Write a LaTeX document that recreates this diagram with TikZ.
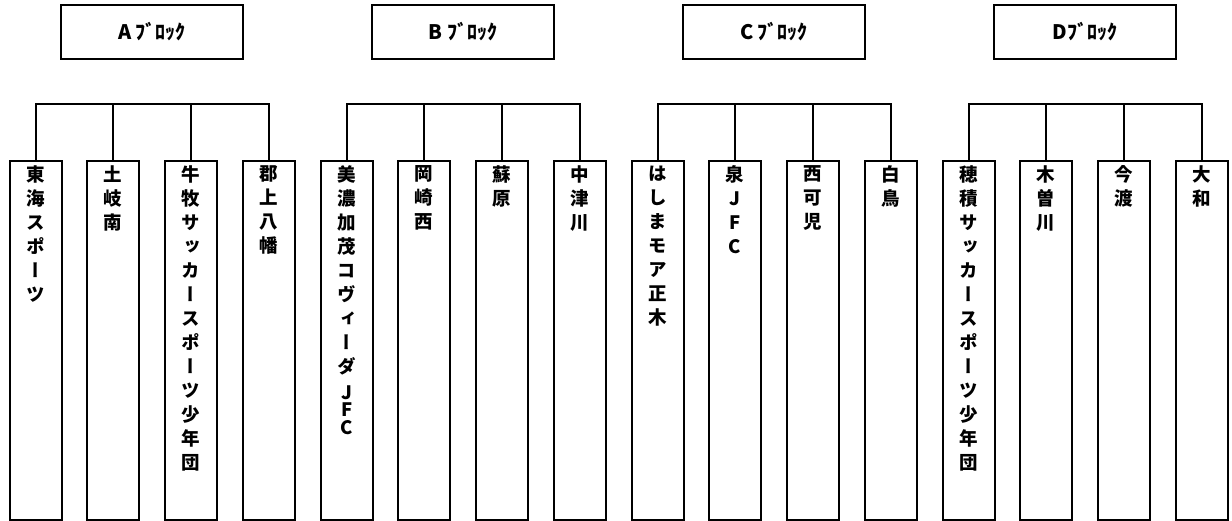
\documentclass[tikz,border=0pt]{standalone}
\usepackage{fontspec}
\newfontfamily\jp{Noto Sans CJK JP}
\newfontfamily\jpv{Noto Sans CJK JP}[RawFeature=+vert]
\begin{document}
\begin{tikzpicture}[x=1pt,y=-1pt,
  ln/.style={line width=1.6pt},
  head/.style={draw,line width=1.6pt,minimum width=182pt,minimum height=54pt,inner sep=0pt,font=\jp\bfseries\fontsize{20}{22}\selectfont},
  team/.style={draw,line width=1.6pt,minimum width=52pt,minimum height=359pt,inner sep=0pt,anchor=north},
  tname/.style={anchor=north,inner sep=0pt,align=center,font=\jpv\bfseries\fontsize{18.5}{24}\selectfont}]
\useasboundingbox (0,0) rectangle (1232,520);
% headers
\node[head] (hA) at (152,32) {A ﾌﾞﾛｯｸ};
\node[head] (hB) at (463,32) {B ﾌﾞﾛｯｸ};
\node[head] (hC) at (774,32) {C ﾌﾞﾛｯｸ};
\node[head] (hD) at (1085,32) {Dﾌﾞﾛｯｸ};
% team boxes
\def\ty{160}
\node[team] (a1) at (36,\ty) {};
\node[team] (a2) at (113,\ty) {};
\node[team] (a3) at (191,\ty) {};
\node[team] (a4) at (269,\ty) {};
\node[team] (b1) at (347,\ty) {};
\node[team] (b2) at (424,\ty) {};
\node[team] (b3) at (502,\ty) {};
\node[team] (b4) at (580,\ty) {};
\node[team] (c1) at (658,\ty) {};
\node[team] (c2) at (735,\ty) {};
\node[team] (c3) at (813,\ty) {};
\node[team] (c4) at (891,\ty) {};
\node[team] (d1) at (969,\ty) {};
\node[team] (d2) at (1046,\ty) {};
\node[team] (d3) at (1124,\ty) {};
\node[team] (d4) at (1202,\ty) {};
% names
\def\ny{165.5}
\node[tname] (ta1) at (36,\ny) {東\\海\\ス\\ポ\\ー\\ツ};
\node[tname] (ta2) at (113,\ny) {土\\岐\\南};
\node[tname] (ta3) at (191,\ny) {牛\\牧\\サ\\ッ\\カ\\ー\\ス\\ポ\\ー\\ツ\\少\\年\\団};
\node[tname] (ta4) at (269,\ny) {郡\\上\\八\\幡};
\node[tname] (tb1) at (347,\ny) {美\\濃\\加\\茂\\コ\\ヴ\\ィ\\ー\\ダ\\[2pt]J\\[-7pt]F\\[-6pt]C};
\node[tname] (tb2) at (424,\ny) {岡\\崎\\西};
\node[tname] (tb3) at (502,\ny) {蘇\\原};
\node[tname] (tb4) at (580,\ny) {中\\津\\川};
\node[tname] (tc1) at (658,\ny) {は\\し\\ま\\モ\\ア\\正\\木};
\node[tname] (tc2) at (735,\ny) {泉\\J\\F\\C};
\node[tname] (tc3) at (813,\ny) {西\\可\\児};
\node[tname] (tc4) at (891,\ny) {白\\鳥};
\node[tname] (td1) at (969,\ny) {穂\\積\\サ\\ッ\\カ\\ー\\ス\\ポ\\ー\\ツ\\少\\年\\団};
\node[tname] (td2) at (1046,\ny) {木\\曽\\川};
\node[tname] (td3) at (1124,\ny) {今\\渡};
\node[tname] (td4) at (1202,\ny) {大\\和};
% tree connectors
\foreach \g in {a,b,c,d}{
  \draw[ln] (\g1.north) |- (\g4.north |- 0,104) -- (\g4.north);
  \draw[ln] (\g2.north) -- (\g2.north |- 0,104);
  \draw[ln] (\g3.north) -- (\g3.north |- 0,104);
}
\end{tikzpicture}
\end{document}
